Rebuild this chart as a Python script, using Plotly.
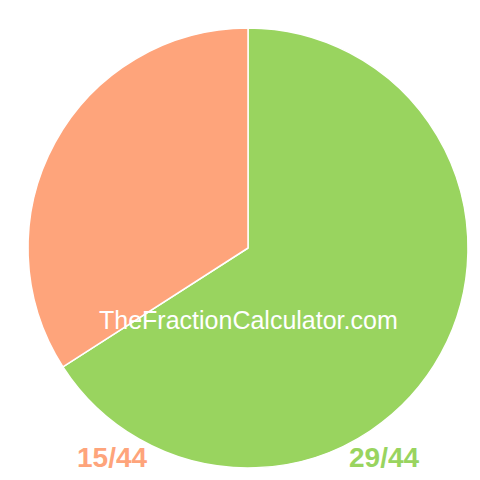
import plotly.graph_objects as go

# 分数饼图数据
labels = ["29/44", "15/44"]
values = [29, 15]
colors = ["#99d45f", "#fea47b"]

fig = go.Figure()
fig.add_trace(go.Pie(
    labels=labels,
    values=values,
    sort=False,
    direction="clockwise",
    rotation=0,
    textinfo="none",
    hoverinfo="label",
    marker=dict(colors=colors, line=dict(color="white", width=1.5)),
    domain=dict(x=[20/480, 460/480], y=[20/480, 460/480]),
    showlegend=False,
))

# 水印文字
fig.add_annotation(text="TheFractionCalculator.com", x=0.5, y=1 - 312/480,
                   xref="paper", yref="paper", showarrow=False,
                   xanchor="center", yanchor="middle",
                   font=dict(family="Liberation Sans, Arial", size=25, color="white"))

# 底部标签
fig.add_annotation(text="<b>15/44</b>", x=103.5/480, y=1 - 449/480,
                   xref="paper", yref="paper", showarrow=False,
                   xanchor="center", yanchor="middle",
                   font=dict(family="Liberation Sans, Arial", size=28, color=colors[1]))
fig.add_annotation(text="<b>29/44</b>", x=375.5/480, y=1 - 449/480,
                   xref="paper", yref="paper", showarrow=False,
                   xanchor="center", yanchor="middle",
                   font=dict(family="Liberation Sans, Arial", size=28, color=colors[0]))

fig.update_layout(width=480, height=480, margin=dict(l=0, r=0, t=0, b=0),
                  paper_bgcolor="white", plot_bgcolor="white")
fig.write_html("out.html")
